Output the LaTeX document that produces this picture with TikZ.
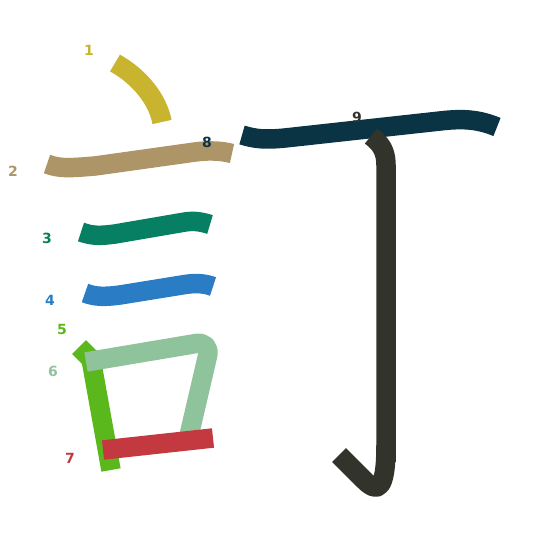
\documentclass[tikz,border=0pt]{standalone}
\usepackage{fontspec}
\setmainfont{DejaVu Sans}
\begin{document}
\begin{tikzpicture}[x=1pt,y=-1pt,
  strk/.style={line width=19.5pt,line cap=butt,line join=round},
  lbl/.style={font=\fontsize{14}{14}\selectfont\bfseries,inner sep=0pt}]
\definecolor{c1}{HTML}{C9B42F}
\definecolor{c2}{HTML}{AD9568}
\definecolor{c3}{HTML}{077F62}
\definecolor{c4}{HTML}{2A7DC4}
\definecolor{c5}{HTML}{5AB81C}
\definecolor{c6}{HTML}{8EC39B}
\definecolor{c7}{HTML}{C4383F}
\definecolor{c8}{HTML}{0A3344}
\definecolor{c9}{HTML}{32342C}
\useasboundingbox (0,0) rectangle (545,545);
% strokes
\draw[strk,c1] (115,63) .. controls (140,77) and (158,100) .. (162,122);
\draw[strk,c2] (47,164) .. controls (60,169) and (70,168) .. (95,166) -- (195,152) .. controls (210,150) and (222,151) .. (232,153.5);
\draw[strk,c3] (81,232) .. controls (92,236) and (100,236) .. (115,234) -- (185,222) .. controls (195,220.5) and (202,222) .. (210,224.5);
\draw[strk,c4] (85,293) .. controls (95,297) and (105,297) .. (120,295) -- (185,284.5) .. controls (198,282.5) and (206,284) .. (213,286.5);
\draw[strk,c5] (79,347) -- (91,359) -- (111,470);
\draw[strk,c6,rounded corners=15pt] (86,362) -- (211,341) -- (188,440);
\draw[strk,c7] (103,450) -- (213,438);
\draw[strk,c8] (242,135) .. controls (255,139) and (265,140) .. (285,138) -- (440,121) .. controls (465,118) and (480,120) .. (497,127);
\draw[strk,c9] (371,136) .. controls (380,143) and (386,150) .. (386,165) -- (386,462);
\draw[strk,c9] (386,445) .. controls (386,490) and (378,494) .. (364,480) -- (339,455);
% labels
\node[lbl,c1] (n1) at (89,50) {1};
\node[lbl,c2] (n2) at (13,171) {2};
\node[lbl,c3] (n3) at (47,238) {3};
\node[lbl,c4] (n4) at (50,300) {4};
\node[lbl,c5] (n5) at (62,329) {5};
\node[lbl,c6] (n6) at (53,371) {6};
\node[lbl,c7] (n7) at (70,458) {7};
\node[lbl,c8] (n8) at (207,142) {8};
\node[lbl,c9] (n9) at (357,117) {9};
\end{tikzpicture}
\end{document}
